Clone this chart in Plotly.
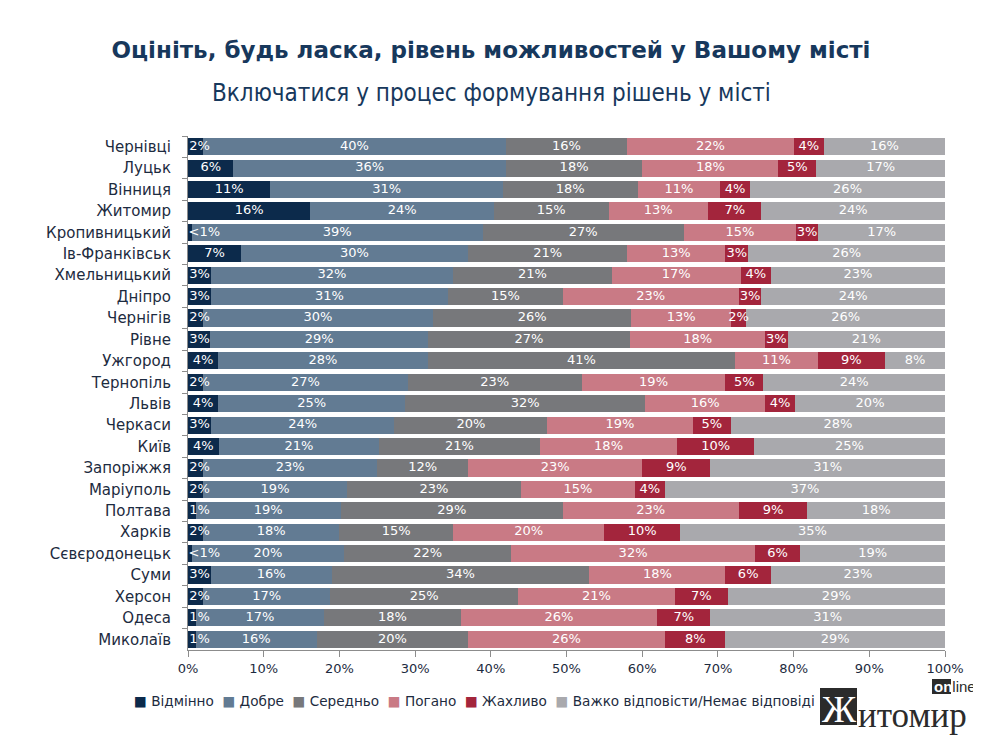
import plotly.graph_objects as go

# cities, top to bottom as in the chart
cities = ["Чернівці", "Луцьк", "Вінниця", "Житомир", "Кропивницький", "Ів-Франківськ",
          "Хмельницький", "Дніпро", "Чернігів", "Рівне", "Ужгород", "Тернопіль", "Львів",
          "Черкаси", "Київ", "Запоріжжя", "Маріуполь", "Полтава", "Харків", "Сєвєродонецьк",
          "Суми", "Херсон", "Одеса", "Миколаїв"]

# answer shares, % (0.5 stands for "<1%")
excellent = [2, 6, 11, 16, 0.5, 7, 3, 3, 2, 3, 4, 2, 4, 3, 4, 2, 2, 1, 2, 0.5, 3, 2, 1, 1]
good = [40, 36, 31, 24, 39, 30, 32, 31, 30, 29, 28, 27, 25, 24, 21, 23, 19, 19, 18, 20, 16, 17, 17, 16]
average = [16, 18, 18, 15, 27, 21, 21, 15, 26, 27, 41, 23, 32, 20, 21, 12, 23, 29, 15, 22, 34, 25, 18, 20]
bad = [22, 18, 11, 13, 15, 13, 17, 23, 13, 18, 11, 19, 16, 19, 18, 23, 15, 23, 20, 32, 18, 21, 26, 26]
awful = [4, 5, 4, 7, 3, 3, 4, 3, 2, 3, 9, 5, 4, 5, 10, 9, 4, 9, 10, 6, 6, 7, 7, 8]
no_answer = [16, 17, 26, 24, 17, 26, 23, 24, 26, 21, 8, 24, 20, 28, 25, 31, 37, 18, 35, 19, 23, 29, 31, 29]

series_names = ["Відмінно", "Добре", "Середньо", "Погано", "Жахливо",
                "Важко відповісти/Немає відповіді"]
series_values = [excellent, good, average, bad, awful, no_answer]
colors = ["#0c2a4b", "#627b93", "#77787b", "#c97a85", "#a3253c", "#a9a9ad"]

TXT = "#1d2b40"
FONT = "DejaVu Sans"

# page body has an 8px margin, so the figure is made smaller by that much
OFF = 8
W, H = 981 - OFF, 737 - OFF
L, R, T, B = 188 - OFF, 36, 136 - OFF, 87
PW, PH = W - L - R, H - T - B


def pct_label(v):
    return "<1%" if v < 1 else "%d%%" % v


# helpers: window pixel -> paper coordinates
def px_x(x):
    return (x - OFF - L) / PW


def px_y(y):
    return (H - B - (y - OFF)) / PH


fig = go.Figure()
for name, vals, col in zip(series_names, series_values, colors):
    fig.add_trace(go.Bar(
        y=cities, x=vals, name=name, orientation="h",
        marker=dict(color=col, line=dict(width=0)),
        hoverinfo="skip", showlegend=False,
    ))

# labels on top of all bars (Excel style: centred, allowed to overflow,
# but kept from sticking out past the left edge of the plot)
px_per_pct = PW / 100.0
totals = [sum(row) for row in zip(*series_values)]
cum = [0.0] * len(cities)
for vals in series_values:
    mids, labels = [], []
    for i, v in enumerate(vals):
        share = v * 100.0 / totals[i]
        lab = pct_label(v)
        half = (len(lab) * 9.5 + 1) / 2 / px_per_pct
        mids.append(max(cum[i] + share / 2, half + 0.2))
        labels.append(lab)
        cum[i] += share
    fig.add_trace(go.Scatter(
        x=mids, y=cities, mode="text", text=labels,
        textposition="middle center", cliponaxis=False,
        textfont=dict(color="white", size=13, family=FONT),
        hoverinfo="skip", showlegend=False,
    ))

fig.update_layout(
    barmode="stack", barnorm="percent", bargap=0.2,
    width=W, height=H,
    margin=dict(l=L, r=R, t=T, b=B, autoexpand=False),
    paper_bgcolor="white", plot_bgcolor="white",
    font=dict(family=FONT, color=TXT),
    title=dict(text="<b>Оцініть, будь ласка, рівень можливостей у Вашому місті</b>",
               x=(491 - OFF) / W, xanchor="center", y=1 - (50 - OFF) / H, yanchor="middle",
               font=dict(size=23, color="#17385c", family=FONT)),
    showlegend=False,
)

fig.add_annotation(text="Включатися у процес формування рішень у місті",
                   xref="paper", yref="paper", x=px_x(491), y=px_y(93),
                   xanchor="center", yanchor="middle", showarrow=False,
                   font=dict(size=24, color="#17385c", family="DejaVu Sans Condensed, DejaVu Sans"))

# legend as a single text line
legend_text = "  ".join("<span style='color:%s'>■</span> %s" % (c, n)
                        for c, n in zip(colors, series_names))
fig.add_annotation(text=legend_text, xref="paper", yref="paper",
                   x=px_x(132), y=px_y(701), xanchor="left", yanchor="middle",
                   showarrow=False, font=dict(size=13.6, color=TXT, family=FONT))

fig.update_xaxes(range=[0, 100], tickvals=[0, 10, 20, 30, 40, 50, 60, 70, 80, 90, 100],
                 ticktext=["0%", "10%", "20%", "30%", "40%", "50%", "60%", "70%", "80%", "90%", "100%"],
                 showgrid=False, zeroline=False, showline=True, linecolor="#8c8c8c",
                 ticks="outside", ticklen=6, tickcolor="#8c8c8c",
                 tickfont=dict(size=13, color=TXT))
fig.update_yaxes(range=[len(cities) - 0.5, -0.5], showgrid=False, showline=True,
                 linecolor="#8c8c8c", ticks="outside", ticklen=5, tickcolor="#8c8c8c",
                 tickson="boundaries", ticklabelstandoff=13,
                 tickfont=dict(size=15, color=TXT))

# logo "Житомир online" in the bottom right corner
fig.add_shape(type="rect", xref="paper", yref="paper",
              x0=px_x(820), x1=px_x(857), y0=px_y(725), y1=px_y(688),
              fillcolor="#2b2b2b", line=dict(width=0))
fig.add_annotation(text="Ж", xref="paper", yref="paper",
                   x=px_x(839), y=px_y(709), showarrow=False,
                   xanchor="center", yanchor="middle",
                   font=dict(size=38, color="white", family="Liberation Serif"))
fig.add_annotation(text="итомир", xref="paper", yref="paper",
                   x=px_x(856), y=px_y(715), showarrow=False,
                   xanchor="left", yanchor="middle",
                   font=dict(size=35, color="#2b2b2b", family="Liberation Serif"))
fig.add_shape(type="rect", xref="paper", yref="paper",
              x0=px_x(932), x1=px_x(951), y0=px_y(694), y1=px_y(679),
              fillcolor="#2b2b2b", line=dict(width=0))
fig.add_annotation(text="<b><span style='color:white'>on</span></b>line",
                   xref="paper", yref="paper", x=px_x(932), y=px_y(686), showarrow=False,
                   xanchor="left", yanchor="middle",
                   font=dict(size=15, color="#2b2b2b", family="Liberation Sans"))

fig.write_html("out.html")
